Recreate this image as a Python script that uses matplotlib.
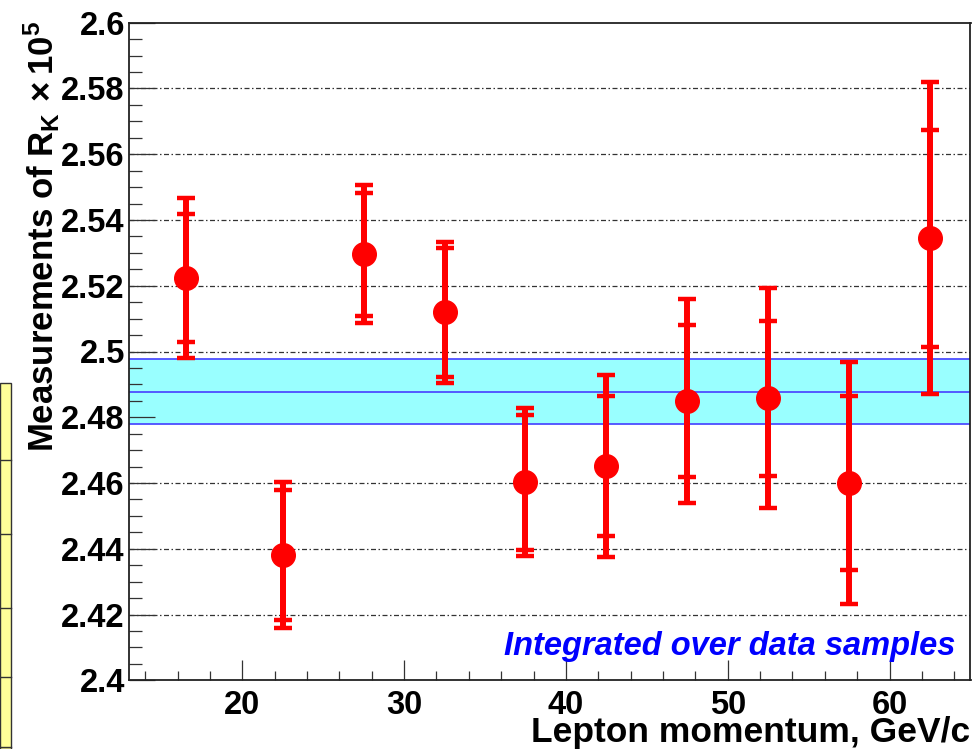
import matplotlib
matplotlib.use("Agg")
import matplotlib.pyplot as plt
from matplotlib.ticker import MultipleLocator, FixedLocator, FuncFormatter
from matplotlib.patches import Rectangle
from matplotlib.lines import Line2D

# R_K measurements in lepton momentum bins (units of 1e-5)
momentum = [16.5, 22.5, 27.5, 32.5, 37.5, 42.5, 47.5, 52.5, 57.5, 62.5]
rk = [2.5223, 2.4381, 2.5296, 2.5119, 2.4602, 2.4652, 2.4850, 2.4858, 2.4600, 2.5345]
stat_err = [0.0195, 0.0199, 0.0187, 0.0197, 0.0206, 0.0214, 0.0231, 0.0236, 0.0266, 0.0330]
total_err = [0.0243, 0.0222, 0.0210, 0.0215, 0.0225, 0.0276, 0.0310, 0.0334, 0.0367, 0.0474]

# combined result shown as a band
average = 2.4878
average_err = 0.0099

x_ticks = [20, 30, 40, 50, 60]
y_ticks = [2.40, 2.42, 2.44, 2.46, 2.48, 2.50, 2.52, 2.54, 2.56, 2.58, 2.60]

plt.rcParams["font.family"] = ["Liberation Sans", "DejaVu Sans"]
plt.rcParams["mathtext.fontset"] = "custom"
plt.rcParams["mathtext.rm"] = "Liberation Sans:bold"
plt.rcParams["mathtext.bf"] = "Liberation Sans:bold"
plt.rcParams["mathtext.it"] = "Liberation Sans:bold:italic"

W, H = 978, 749
fig = plt.figure(figsize=(W / 100, H / 100), dpi=100, facecolor="white")
left, right, top, bottom = 129, 970.5, 22.7, 680.3
ax = fig.add_axes([left / W, 1 - bottom / H, (right - left) / W, (bottom - top) / H])

ax.set_xlim(13, 65)
ax.set_ylim(2.4, 2.6)

# dash-dot horizontal grid at the labelled values
for yv in y_ticks[1:-1]:
    ax.axhline(yv, color="#333333", lw=0.9, ls=(0, (4, 2, 1.2, 2)), zorder=0.5)

# average band
ax.axhspan(average - average_err, average + average_err, color="#99ffff", lw=0, zorder=1)
for yv in (average - average_err, average, average + average_err):
    ax.axhline(yv, color="#4d4dff", lw=1.3, zorder=1.1)

red = "#ff0000"
ax.errorbar(momentum, rk, yerr=total_err, fmt="none", ecolor=red,
            elinewidth=4.3, capsize=6.2, capthick=3.2, zorder=3)
ax.errorbar(momentum, rk, yerr=stat_err, fmt="o", color=red, ms=17,
            ecolor=red, elinewidth=4.3, capsize=6.2, capthick=3.2, zorder=4)

# axes styling
for sp in ax.spines.values():
    sp.set_color("#222222")
    sp.set_linewidth(1.3)

ax.xaxis.set_major_locator(FixedLocator(x_ticks))
ax.xaxis.set_minor_locator(MultipleLocator(2))
ax.yaxis.set_major_locator(FixedLocator(y_ticks))
ax.yaxis.set_minor_locator(MultipleLocator(0.005))
ax.xaxis.set_major_formatter(FuncFormatter(lambda v, p: "%g" % v))
ax.yaxis.set_major_formatter(FuncFormatter(lambda v, p: "%g" % round(v, 3)))

ax.tick_params(axis="x", which="major", direction="in", length=14.4, width=0.9,
               color="#333333", pad=7, labelsize=23.5, top=False)
ax.tick_params(axis="x", which="minor", direction="in", length=6.8, width=0.9,
               color="#333333", top=False)
ax.tick_params(axis="y", which="major", direction="in", length=18.7, width=0.9,
               color="#333333", pad=3, labelsize=23.5, right=False)
ax.tick_params(axis="y", which="minor", direction="in", length=9.4, width=0.9,
               color="#333333", right=False)
for lab in ax.get_xticklabels() + ax.get_yticklabels():
    lab.set_fontweight("bold")

ax.set_xlabel("Lepton momentum, GeV/c", fontsize=25.5, fontweight="bold")
ax.xaxis.label.set_ha("right")
ax.xaxis.label.set_va("baseline")
ax.xaxis.set_label_coords(1.0, -(741.7 - bottom) / (bottom - top))

ax.set_ylabel(r"Measurements of R$_\mathrm{K}\,\times$10$^{5}$", fontsize=25, fontweight="bold")
ax.yaxis.label.set_rotation_mode("anchor")
ax.yaxis.label.set_ha("right")
ax.yaxis.label.set_va("center")
ax.yaxis.set_label_coords(-(129 - 42) / (right - left), 1.0026)

ax.text((955 - left) / (right - left), (bottom - 655) / (bottom - top),
        "Integrated over data samples", transform=ax.transAxes, ha="right",
        va="baseline", fontsize=23.5, fontweight="bold", fontstyle="italic",
        color="#0000ff", zorder=5)

# edge of the neighbouring yellow table
tab_top = 382.7
tab_rows = [460, 534, 608, 677, 747]
fig.add_artist(Rectangle((0, 0), 11 / W, 1 - tab_top / H, transform=fig.transFigure,
                         facecolor="#ffff99", edgecolor="#333333", lw=1.0))
for r in tab_rows:
    fig.add_artist(Line2D([0, 11 / W], [1 - r / H, 1 - r / H], transform=fig.transFigure,
                          color="#333333", lw=1.0))

fig.savefig("out.png", dpi=100, facecolor="white")
